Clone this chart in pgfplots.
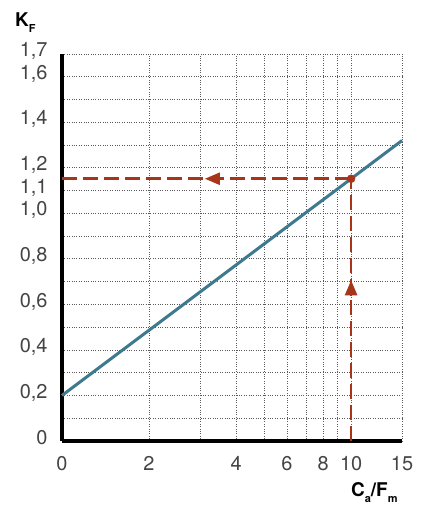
\documentclass[border=0pt]{standalone}
\usepackage{fontspec}
\setmainfont{TeX Gyre Heros}
\usepackage{pgfplots}
\pgfplotsset{compat=1.18}
\usetikzlibrary{arrows.meta}
\definecolor{teal1}{HTML}{3E7A8F}
\definecolor{red1}{HTML}{A8351A}
\definecolor{txt}{HTML}{444444}
\begin{document}
\begin{tikzpicture}[x=1bp,y=1bp]
\begin{semilogxaxis}[
  at={(62bp,65bp)}, anchor=south west,
  scale only axis, width=340bp, height=387bp,
  xmin=1, xmax=15, ymin=0, ymax=1.7,
  axis lines=left,
  axis line style={-, line width=3.5bp, black},
  xtick={1,2,4,6,8,10,15},
  xticklabels={0,2,4,6,8,10,15},
  ytick={0,0.2,0.4,0.6,0.8,1.0,1.1,1.2,1.4,1.6,1.7},
  yticklabels={0,{0,2},{0,4},{0,6},{0,8},{1,0},{1,1},{1,2},{1,4},{1,6},{1,7}},
  minor xtick={2,3,4,5,6,7,8,9,10,15},
  minor ytick={0.1,0.2,0.3,0.4,0.5,0.6,0.7,0.8,0.9,1.0,1.1,1.2,1.3,1.4,1.5,1.6,1.7},
  major tick length=0, minor tick length=0,
  xmajorgrids=false, ymajorgrids=false,
  xminorgrids=true, yminorgrids=true,
  minor grid style={dotted, line width=0.8bp, black!65},
  tick label style={font=\fontsize{20}{22}\selectfont, text=txt},
  xticklabel style={yshift=-12bp},
  yticklabel style={xshift=-11bp, yshift=3bp},
  /pgf/number format/assume math mode=true,
  clip=false,
]
\addplot[teal1, line width=3bp] coordinates {(1,0.2) (10,1.152) (15,1.32)};
\addplot[red1, line width=2.5bp, dash pattern=on 15bp off 6bp] coordinates {(1,1.152) (10,1.152)};
\addplot[red1, line width=2.5bp, dash pattern=on 15bp off 6bp] coordinates {(10,0) (10,1.152)};
\addplot[red1, line width=2.5bp, -{Triangle[length=15bp,width=12bp]}] coordinates {(3.62,1.152) (3.12,1.152)};
\addplot[red1, line width=2.5bp, -{Triangle[length=15bp,width=12bp]}] coordinates {(10,0.64) (10,0.706)};
\addplot[red1, only marks, mark=*, mark size=4bp] coordinates {(10,1.152)};
\end{semilogxaxis}
\node[anchor=base west, inner sep=0pt, text=black] at (15bp,479bp) {\fontsize{19}{20}\selectfont\bfseries K\raisebox{-6bp}{\fontsize{11}{12}\selectfont F}};
\node[anchor=base west, inner sep=0pt, text=black] at (351bp,10bp) {\fontsize{19}{20}\selectfont\bfseries C\raisebox{-6bp}{\fontsize{11}{12}\selectfont a}/F\raisebox{-6bp}{\fontsize{11}{12}\selectfont m}};
\pgfresetboundingbox
\useasboundingbox (0,0) rectangle (428bp,506bp);
\end{tikzpicture}
\end{document}
